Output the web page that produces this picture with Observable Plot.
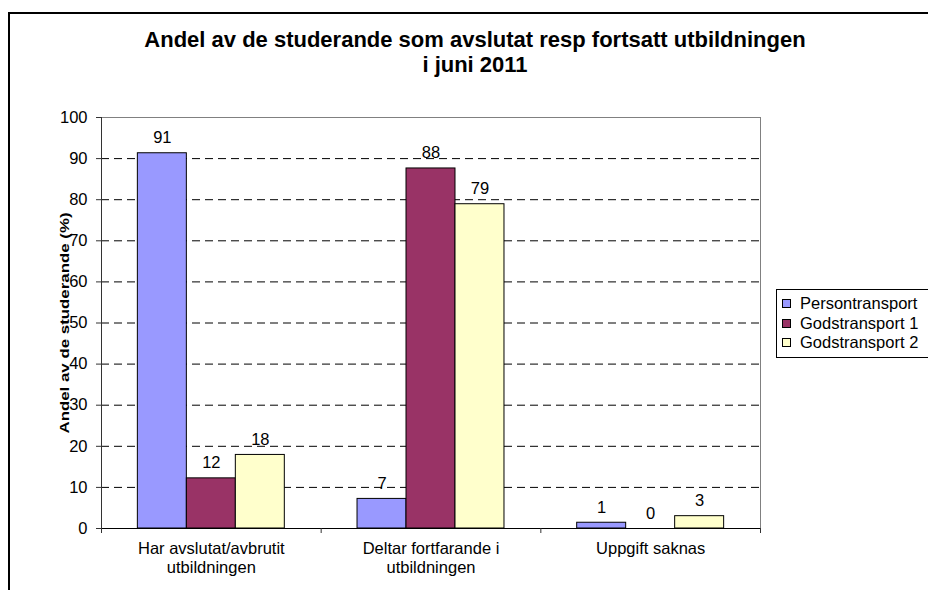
<!DOCTYPE html>
<html>
<head>
<meta charset="utf-8">
<script src="https://cdn.jsdelivr.net/npm/d3@7"></script>
<script src="https://cdn.jsdelivr.net/npm/@observablehq/plot@0.6"></script>
<style>
  html, body { margin: 0; padding: 0; background: #fff; overflow: hidden; }
  #wrap { position: relative; width: 928px; height: 590px; overflow: hidden; font-family: "Liberation Sans", Arial, sans-serif; }
  #frame { position: absolute; left: 8px; top: 12px; width: 1000px; height: 700px; border: 2px solid #000; box-sizing: border-box; }
  #title { position: absolute; left: 0; top: 27px; width: 950px; text-align: center; font-weight: bold; font-size: 22px; line-height: 25px; color: #000; }
  #chart { position: absolute; left: 0; top: 0; }
  #legend { position: absolute; left: 776px; top: 289px; width: 200px; height: 69px; border: 1px solid #000; background: #fff; box-sizing: border-box; padding-top: 4px; }
  .item { display: flex; align-items: center; height: 19.5px; font-size: 16.5px; color: #000; }
  .sw { width: 7px; height: 7px; border: 1px solid #000; margin-left: 5px; margin-right: 9px; }
</style>
</head>
<body>
<div id="wrap">
  <div id="frame"></div>
  <div id="chart"></div>
  <div id="title">Andel av de studerande som avslutat resp fortsatt utbildningen<br>i juni 2011</div>
  <div id="legend"></div>
</div>
<script>
// Categories and tick labels
const categories = ["Har avslutat/avbrutit utbildningen", "Deltar fortfarande i utbildningen", "Uppgift saknas"];
const categoryLabels = ["Har avslutat/avbrutit\nutbildningen", "Deltar fortfarande i\nutbildningen", "Uppgift saknas"];
const seriesNames = ["Persontransport", "Godstransport 1", "Godstransport 2"];
const seriesColors = ["#9999FF", "#993366", "#FFFFCC"];
const yTicks = [0, 10, 20, 30, 40, 50, 60, 70, 80, 90, 100];
const yLabel = "Andel av de studerande (%)";

// Series values (percent)
const persontransport = [91.3, 7.2, 1.4];
const godstransport1 = [12.2, 87.6, 0];
const godstransport2 = [17.9, 78.9, 3.0];

const seriesValues = [persontransport, godstransport1, godstransport2];
const data = [];
categories.forEach((c, ci) => {
  seriesNames.forEach((s, si) => {
    data.push({ category: c, ci, series: s, si, value: seriesValues[si][ci] });
  });
});

const barW = 0.223; // fraction of a category slot for one bar
const barX1 = d => d.ci + 0.5 + (d.si - 1.5) * barW;
const barX2 = d => d.ci + 0.5 + (d.si - 0.5) * barW;
const barXc = d => d.ci + 0.5 + (d.si - 1) * barW;

const font = "Liberation Sans, Arial, sans-serif";

const chart = Plot.plot({
  width: 928,
  height: 590,
  marginLeft: 101,
  marginRight: 168,
  marginTop: 117,
  marginBottom: 62,
  style: { fontFamily: font, fontSize: "16.5px", color: "#000", background: "transparent", overflow: "visible" },
  x: { type: "linear", domain: [0, categories.length], axis: null },
  y: { domain: [0, 100], axis: null },
  color: { domain: seriesNames, range: seriesColors },
  marks: [
    Plot.ruleY(yTicks.filter(t => t > 0 && t < 100), { stroke: "#000", strokeDasharray: "8,5", strokeWidth: 1 }),
    Plot.ruleY([100], { stroke: "#808080" }),
    Plot.ruleX([categories.length], { stroke: "#808080" }),
    Plot.rectY(data, { x1: barX1, x2: barX2, y1: 0, y2: "value", fill: "series", stroke: "#000", strokeWidth: 1 }),
    Plot.text(data, { x: barXc, y: "value", text: d => String(Math.round(d.value)), lineAnchor: "bottom", dy: -10, fontSize: 16.5, fill: "#000" }),
    Plot.ruleX([0], { stroke: "#333" }),
    Plot.ruleY([0], { stroke: "#000" }),
    Plot.axisY({ ticks: yTicks, tickSize: 5, tickPadding: 9, fontSize: 16.5, label: null, stroke: "#333" }),
    Plot.axisX({ ticks: d3.range(categories.length + 1), tickSize: 5, tickFormat: () => "", label: null, stroke: "#333" }),
    Plot.text(categoryLabels, { x: (d, i) => i + 0.5, frameAnchor: "bottom", lineAnchor: "top", dy: 13, lineHeight: 1.1, fontSize: 16.5, fill: "#000" }),
    Plot.text([yLabel], { frameAnchor: "left", textAnchor: "middle", rotate: -90, dx: -37, fontWeight: "bold", fontSize: 13.5, fill: "#000" })
  ]
});
document.getElementById("chart").appendChild(chart);

// the reference's rotated axis title is drawn elongated along its reading direction
d3.select(chart).selectAll("text").filter(function () { return this.textContent === yLabel; })
  .attr("transform", function () { return (this.getAttribute("transform") || "") + " scale(1.25,1)"; });

const legend = document.getElementById("legend");
seriesNames.forEach((s, i) => {
  const row = document.createElement("div");
  row.className = "item";
  const sw = document.createElement("span");
  sw.className = "sw";
  sw.style.background = seriesColors[i];
  const t = document.createElement("span");
  t.textContent = s;
  row.appendChild(sw);
  row.appendChild(t);
  legend.appendChild(row);
});
</script>
</body>
</html>
